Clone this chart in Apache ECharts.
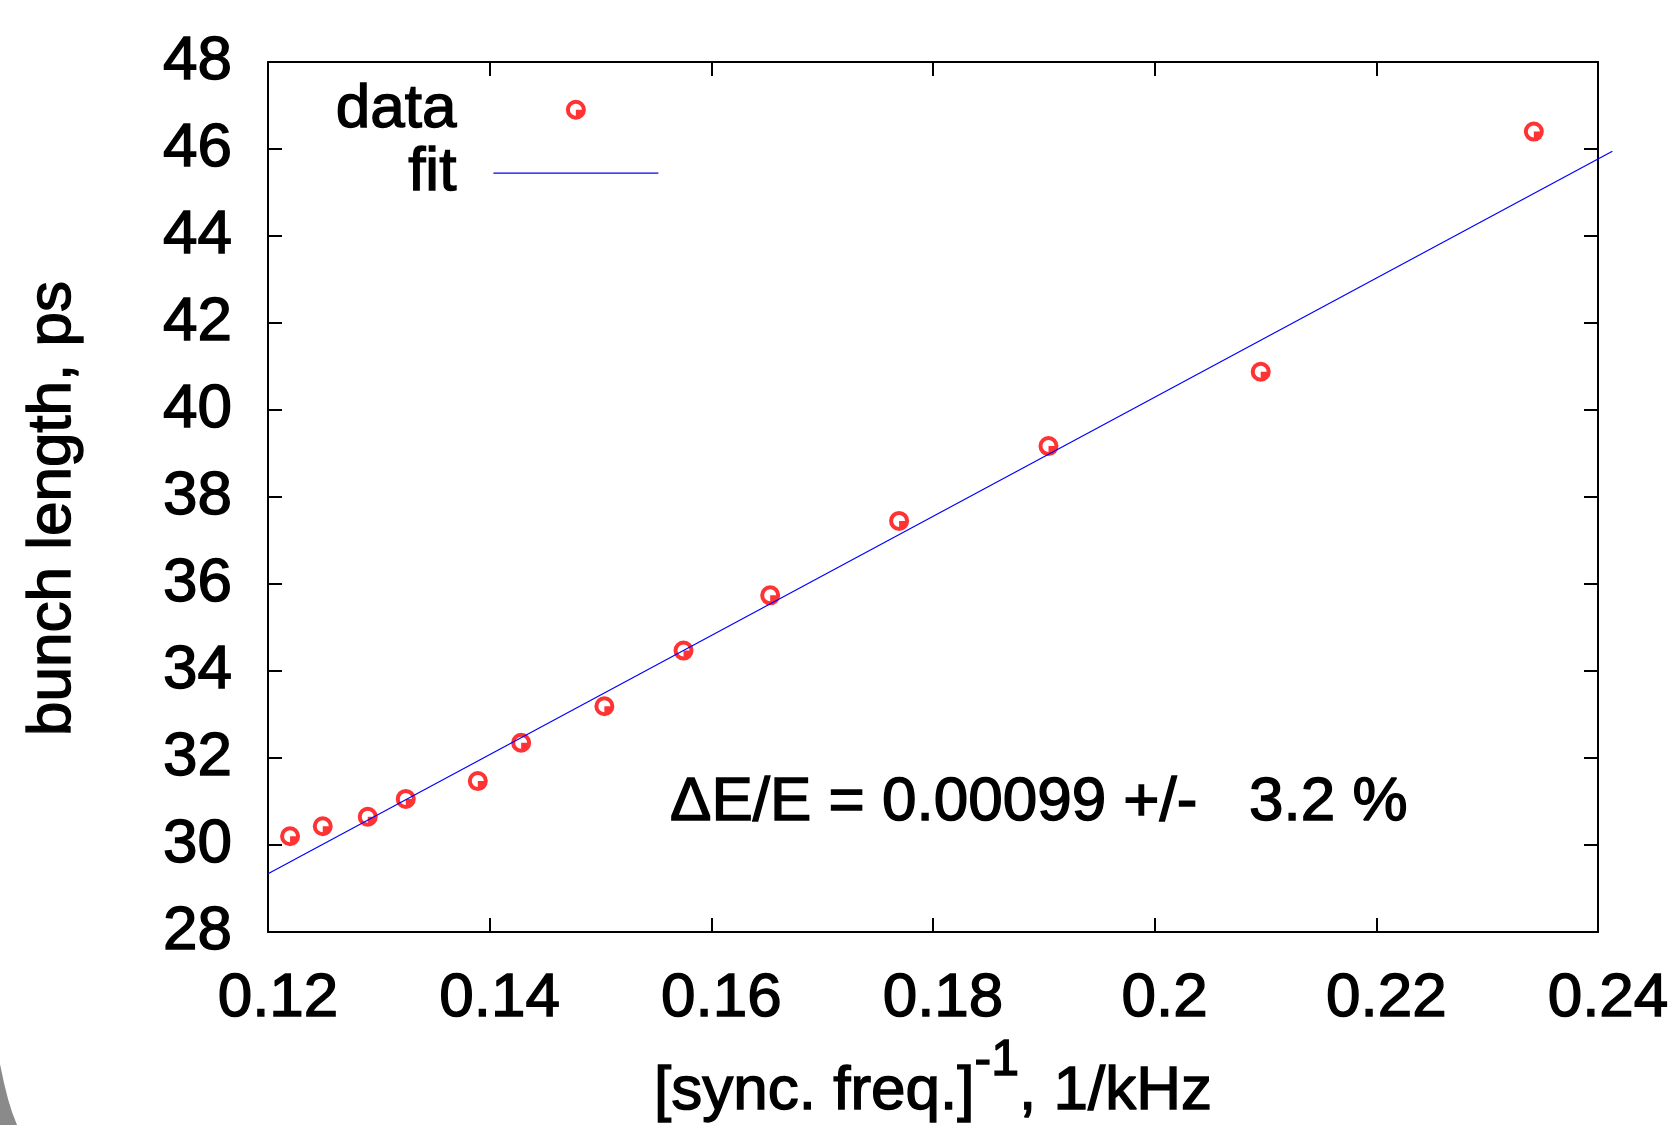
<!DOCTYPE html>
<html>
<head>
<meta charset="utf-8">
<script src="https://cdn.jsdelivr.net/npm/echarts@6/dist/echarts.min.js"></script>
<style>
  html, body { margin: 0; padding: 0; background: #ffffff; }
  #chart { width: 1672px; height: 1125px; }
</style>
</head>
<body>
<div id="chart"></div>
<script>
// Measured bunch length against inverse synchrotron frequency
const periods = [0.12199, 0.12494, 0.12900, 0.13243, 0.13893, 0.14284, 0.15035,
                 0.15749, 0.16531, 0.17694, 0.19042, 0.20957, 0.23421];
const bunchLengths = [30.20, 30.43, 30.65, 31.06, 31.47, 32.35, 33.19,
                      34.47, 35.74, 37.45, 39.17, 40.88, 46.40];

// Straight-line fit, given by its two end points
const fitPeriods = [0.12, 0.2413];
const fitLengths = [29.34, 45.95];

// Axis tick labels
const xTickLabels = ['0.12', '0.14', '0.16', '0.18', '0.2', '0.22', '0.24'];
const yTickLabels = ['28', '30', '32', '34', '36', '38', '40', '42', '44', '46', '48'];

const annotation = '\u0394E/E = 0.00099 +/-   3.2 %';

const FONT = "'Liberation Sans', Arial, Helvetica, sans-serif";

// shared text look: slightly heavy sans-serif
const ink = { fontFamily: FONT, color: '#000', textBorderColor: '#000', textBorderWidth: 1.4 };

// open circle with a filled quarter, the marker used for the measurements
const MARKER = 'path://M20 10A10 10 0 1 1 0 10A10 10 0 1 1 20 10Z' +
               'M16 10A6 6 0 1 0 4 10A6 6 0 1 0 16 10Z' +
               'M10 10L16 10A6 6 0 0 1 10 16Z';

const measured = periods.map((p, i) => [p, bunchLengths[i]]);
// one segment: [x0, y0, x1, y1]
const fitSegment = [[fitPeriods[0], fitLengths[0], fitPeriods[1], fitLengths[1]]];

const chart = echarts.init(document.getElementById('chart'), null, { renderer: 'canvas' });

const frameLine = { show: true, onZero: false, lineStyle: { color: '#000', width: 2 } };
const innerTicks = { show: true, inside: true, length: 14, lineStyle: { color: '#000', width: 2 } };

const xCommon = { type: 'value', min: 0.12, max: 0.24, interval: 0.02, splitLine: { show: false } };
const yCommon = { type: 'value', min: 28, max: 48, interval: 2, splitLine: { show: false } };

chart.setOption({
  animation: false,
  backgroundColor: '#ffffff',
  textStyle: { fontFamily: FONT },
  grid: { left: 268, top: 62, width: 1330, height: 870, containLabel: false, outerBoundsMode: 'none' },
  legend: {
    orient: 'vertical',
    left: 335,
    top: 78,
    padding: 0,
    itemGap: 0,
    itemWidth: 165,
    itemHeight: 20,
    align: 'right',
    selectedMode: false,
    symbolKeepAspect: true,
    data: [
      'data',
      { name: 'fit', icon: 'path://M0 0H165V1.2H0Z', itemStyle: { color: '#0000ff' } }
    ],
    textStyle: Object.assign({ fontSize: 62, lineHeight: 62, padding: [0, 32, 0, 0] }, ink)
  },
  xAxis: [
    Object.assign({}, xCommon, {
      position: 'bottom',
      axisLine: frameLine,
      axisTick: innerTicks,
      axisLabel: Object.assign({
        fontSize: 62, lineHeight: 62, margin: 36,
        padding: [0, 0, 0, 20],
        formatter: (v, i) => xTickLabels[i]
      }, ink),
      name: '[sync. freq.]{sup|-1}, 1/kHz',
      nameLocation: 'middle',
      nameGap: 110,
      nameTextStyle: Object.assign({
        fontSize: 62, lineHeight: 62,
        rich: {
          sup: Object.assign({ fontSize: 50, lineHeight: 50, padding: [0, 0, 62, 0] }, ink)
        }
      }, ink)
    }),
    Object.assign({}, xCommon, {
      position: 'top',
      axisLine: frameLine,
      axisTick: innerTicks,
      axisLabel: { show: false }
    })
  ],
  yAxis: [
    Object.assign({}, yCommon, {
      position: 'left',
      axisLine: frameLine,
      axisTick: innerTicks,
      axisLabel: Object.assign({
        fontSize: 62, lineHeight: 62, margin: 36,
        formatter: (v, i) => yTickLabels[i]
      }, ink),
      name: 'bunch length, ps',
      nameLocation: 'middle',
      nameRotate: 90,
      nameGap: 184,
      nameTextStyle: Object.assign({ fontSize: 62, lineHeight: 62, padding: [0, 23, 0, 0] }, ink)
    }),
    Object.assign({}, yCommon, {
      position: 'right',
      axisLine: frameLine,
      axisTick: innerTicks,
      axisLabel: { show: false }
    })
  ],
  series: [
    {
      name: 'data',
      type: 'scatter',
      xAxisIndex: 0,
      yAxisIndex: 0,
      data: measured,
      symbol: MARKER,
      symbolSize: 20,
      symbolKeepAspect: true,
      itemStyle: { color: '#ff0000', borderWidth: 0 },
      z: 2
    },
    {
      // fitted straight line; it runs a little past the right frame
      name: 'fit',
      type: 'custom',
      xAxisIndex: 0,
      yAxisIndex: 0,
      clip: false,
      data: fitSegment,
      encode: { x: [0, 2], y: [1, 3] },
      itemStyle: { color: '#0000ff' },
      renderItem: function (params, api) {
        const p0 = api.coord([api.value(0), api.value(1)]);
        const p1 = api.coord([api.value(2), api.value(3)]);
        return {
          type: 'line',
          shape: { x1: p0[0], y1: p0[1], x2: p1[0], y2: p1[1] },
          style: { stroke: '#0000ff', lineWidth: 1.2, fill: null }
        };
      },
      z: 3
    }
  ],
  graphic: [
    {
      type: 'text',
      x: 670,
      y: 803,
      silent: true,
      style: {
        text: annotation,
        fontSize: 62,
        fontFamily: FONT,
        fill: '#000',
        stroke: '#000',
        lineWidth: 1.4,
        align: 'left',
        verticalAlign: 'middle'
      }
    },
    {
      type: 'polygon',
      silent: true,
      shape: { points: [[0, 1064], [4, 1083], [8, 1099], [12, 1112], [17, 1125], [0, 1125]] },
      style: { fill: '#8a8a8a' }
    }
  ]
});
</script>
</body>
</html>
